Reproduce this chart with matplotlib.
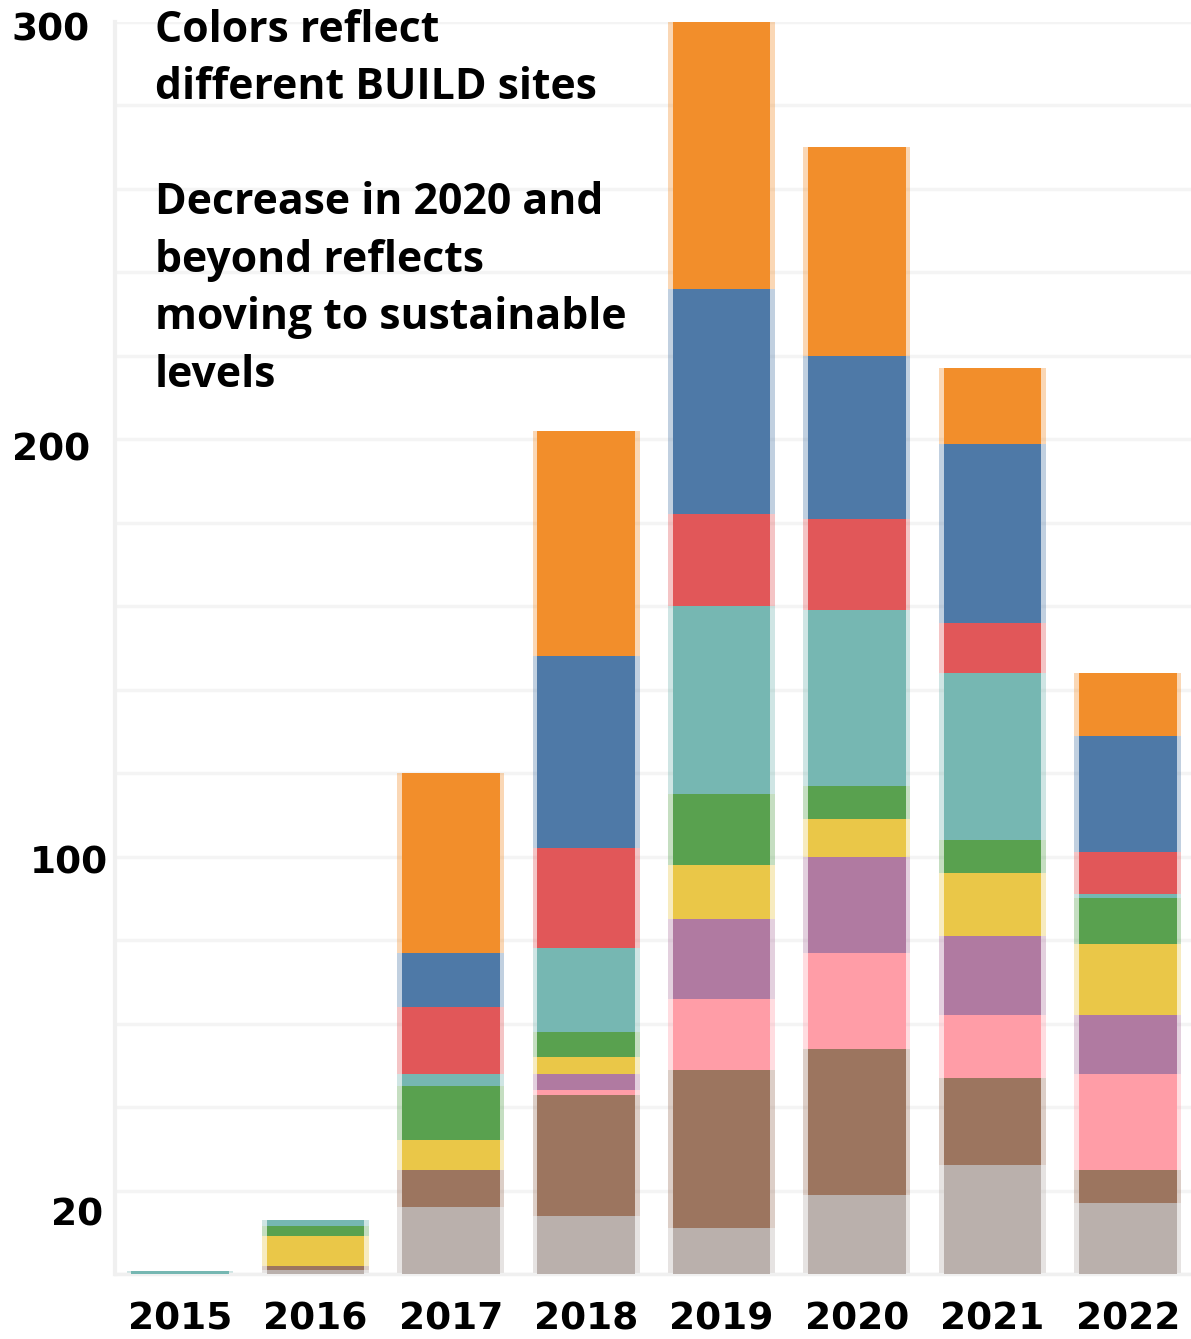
import numpy as np
import matplotlib
matplotlib.use("Agg")
import matplotlib.pyplot as plt
import matplotlib.transforms as mtransforms
from matplotlib.ticker import MultipleLocator

# años y sitios (de abajo hacia arriba en cada barra)
anios = ["2015", "2016", "2017", "2018", "2019", "2020", "2021", "2022"]
sitios = ["gris", "marron", "rosa", "morado", "amarillo", "verde",
          "turquesa", "rojo", "azul", "naranja"]

gris     = [0,   1,  16, 14, 11, 19, 26, 17]
marron   = [0,   1,   9, 29, 38, 35, 21,  8]
rosa     = [0,   0,   0,  1, 17, 23, 15, 23]
morado   = [0,   0,   0,  4, 19, 23, 19, 14]
amarillo = [0,   7,   7,  4, 13,  9, 15, 17]
verde    = [0, 2.5,  13,  6, 17,  8,  8, 11]
turquesa = [0.7, 1.5, 3, 20, 45, 42, 40,  1]
rojo     = [0,   0,  16, 24, 22, 22, 12, 10]
azul     = [0,   0,  13, 46, 54, 39, 43, 28]
naranja  = [0,   0,  43, 54, 64, 50, 18, 15]

series = [gris, marron, rosa, morado, amarillo, verde, turquesa, rojo, azul, naranja]
colores = ["#bab0ac", "#9c755f", "#ff9da7", "#b07aa1", "#eac748",
           "#59a14f", "#76b7b2", "#e15759", "#4e79a7", "#f28e2b"]

texto = ["Colors reflect", "different BUILD sites", "",
         "Decrease in 2020 and", "beyond reflects",
         "moving to sustainable", "levels"]

W, H = 1191, 1339
fig = plt.figure(figsize=(W / 100, H / 100), dpi=100)
ax = fig.add_axes([115 / W, 65 / H, 1076 / W, 1252 / H])

x = np.arange(len(anios))
base = np.zeros(len(anios))
for vals, col in zip(series, colores):
    vals = np.array(vals, dtype=float)
    # borde suave alrededor de cada bloque
    ax.bar(x, vals, bottom=base, width=0.79, color=col, alpha=0.35,
           linewidth=0, zorder=2)
    ax.bar(x, vals, bottom=base, width=0.72, color=col, linewidth=0, zorder=3)
    base += vals

ax.set_xlim(-0.48, 7.467)
ax.set_ylim(0, 300)

# cuadrícula cada 20
ax.yaxis.set_minor_locator(MultipleLocator(20))
ax.grid(axis="y", which="both", color="#f4f4f4", linewidth=2.5, zorder=0)
ax.set_axisbelow(True)

for s in ["top", "right"]:
    ax.spines[s].set_visible(False)
ax.spines["left"].set_color("#f0f0f0")
ax.spines["left"].set_linewidth(3)
ax.spines["bottom"].set_color("#f0f0f0")
ax.spines["bottom"].set_linewidth(2.5)

ax.set_xticks(x)
ax.set_xticklabels(anios, fontsize=27, fontweight="bold", family="DejaVu Sans")
ax.tick_params(axis="x", length=0, pad=20)

ax.set_yticks([20, 100, 200, 300])
ax.set_yticklabels(["20", "100", "200", "300"], fontsize=27, fontweight="bold",
                   family="DejaVu Sans")
ax.tick_params(axis="y", which="both", length=0, pad=0)

# desplazamientos de las etiquetas del eje y (px)
desp = {"20": (-12, -21), "100": (-7, -3), "200": (-25, -7), "300": (-25, -5)}
for lab in ax.get_yticklabels():
    dx, dy = desp[lab.get_text()]
    lab.set_transform(lab.get_transform() +
                      mtransforms.ScaledTranslation(dx / 100, dy / 100, fig.dpi_scale_trans))

# nota
y0 = 41.7
for i, linea in enumerate(texto):
    if linea:
        fig.text(155 / W, 1 - (y0 + i * 57.5) / H, linea, ha="left", va="baseline",
                 fontsize=30.8, fontweight="bold", family="Open Sans", color="black")

fig.savefig("out.png", dpi=100)
